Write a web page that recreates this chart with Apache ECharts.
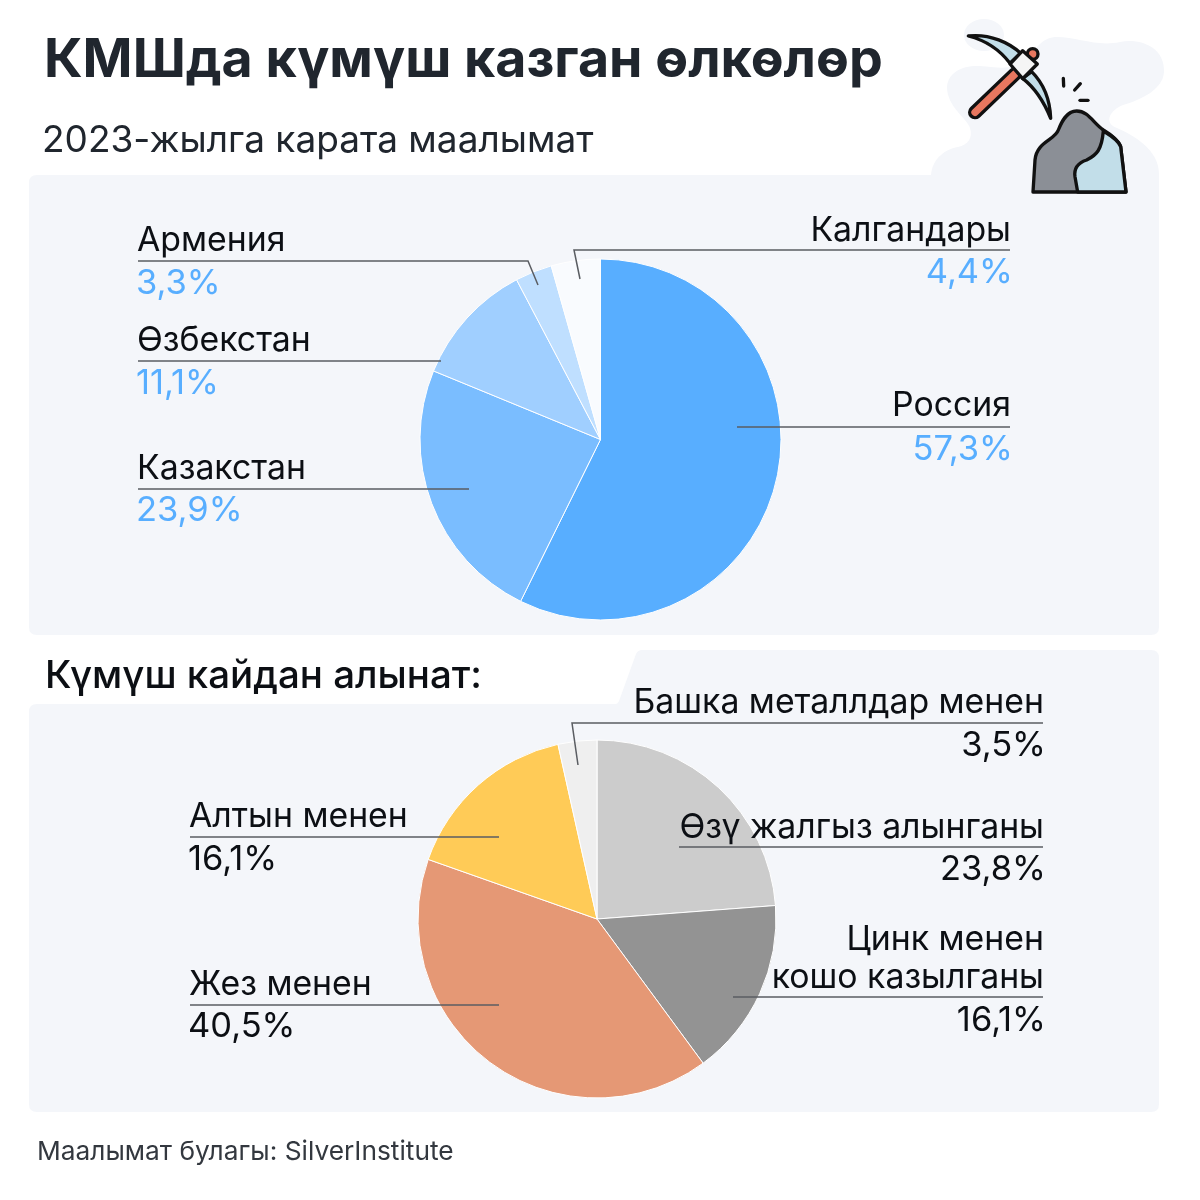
<!DOCTYPE html>
<html>
<head>
<meta charset="utf-8">
<style>
  html, body { margin: 0; padding: 0; background: #fff; }
  #main { width: 1200px; height: 1200px; }
</style>
</head>
<body>
<div id="main"></div>
<script src="https://cdn.jsdelivr.net/npm/echarts@6/dist/echarts.min.js"></script>
<script>
// data
var countryNames = ["Россия", "Казакстан", "Өзбекстан", "Армения", "Калгандары"];
var countryValues = [57.3, 23.9, 11.1, 3.3, 4.4];
var countryColors = ["#58aeff", "#7abdff", "#a0cfff", "#bfdfff", "#f9fbfe"];

var sourceNames = ["Өзү жалгыз алынганы", "Цинк менен\nкошо казылганы", "Жез менен", "Алтын менен", "Башка металлдар менен"];
var sourceValues = [23.8, 16.1, 40.5, 16.1, 3.5];
var sourceColors = ["#cccccc", "#939393", "#e59875", "#ffcb57", "#efefef"];

var FONT = "Inter, Roboto, sans-serif";
var DARK = "#0c0f14";

function pct(v) {
  return v.toFixed(1).replace(".", ",") + "%";
}

// the graphic component has no plain "path" type, so svg paths get registered as shapes
var shapeCount = 0;
function svgShape(pathData, style, z) {
  var name = "svgShape" + shapeCount++;
  echarts.graphic.registerShape(name, echarts.graphic.extendPath(pathData, {}));
  return { type: name, style: style, z: z };
}

function pieSeries(names, values, colors, center, radius) {
  return {
    type: "pie",
    center: center,
    radius: radius,
    startAngle: 90,
    clockwise: true,
    silent: true,
    animation: false,
    label: { show: false },
    labelLine: { show: false },
    itemStyle: { borderColor: "#fff", borderWidth: 1 },
    data: names.map(function (n, i) {
      return { name: n, value: values[i], itemStyle: { color: colors[i] } };
    }),
  };
}

// label block: name above a rule, value below it, rule runs on into the slice
function callout(name, value, o) {
  var els = [];
  var lines = name.split("\n");
  var right = o.align === "right";
  lines.forEach(function (t, i) {
    els.push({
      type: "text", z: 10,
      style: {
        text: t, x: o.x + (right ? 1 : -1), y: o.nameY + 1 + (i - lines.length + 1) * 38,
        align: o.align, verticalAlign: "middle",
        font: "400 33.8px " + FONT, fill: DARK,
      },
    });
  });
  els.push({
    type: "text", z: 10,
    style: {
      text: pct(value), x: o.x + (right ? 3 : -2), y: o.valueY + 1,
      align: o.align, verticalAlign: "middle",
      font: "400 34.5px " + FONT, fill: o.valueColor,
    },
  });
  els.push({
    type: "polyline", z: 9,
    shape: { points: o.line },
    style: { fill: "none", stroke: "#5a5d62", lineWidth: 1.5 },
  });
  return els;
}

var BLUE = "#58aeff";
var countryLayout = [
  { x: 1010, align: "right", nameY: 405, valueY: 449, valueColor: BLUE, line: [[1010, 427], [737, 427]] },
  { x: 138, align: "left", nameY: 468, valueY: 510, valueColor: BLUE, line: [[138, 489], [469, 489]] },
  { x: 138, align: "left", nameY: 340, valueY: 383, valueColor: BLUE, line: [[138, 361], [441, 361]] },
  { x: 138, align: "left", nameY: 240, valueY: 283, valueColor: BLUE, line: [[138, 261], [528, 261], [538, 285]] },
  { x: 1010, align: "right", nameY: 230, valueY: 272, valueColor: BLUE, line: [[1010, 250], [574, 250], [580, 279]] },
];
var sourceLayout = [
  { x: 1043, align: "right", nameY: 827, valueY: 869, valueColor: DARK, line: [[1043, 847], [679, 847]] },
  { x: 1043, align: "right", nameY: 977, valueY: 1020, valueColor: DARK, line: [[1043, 997], [733, 997]] },
  { x: 190, align: "left", nameY: 984, valueY: 1026, valueColor: DARK, line: [[190, 1005], [499, 1005]] },
  { x: 190, align: "left", nameY: 816, valueY: 859, valueColor: DARK, line: [[190, 837], [499, 837]] },
  { x: 1043, align: "right", nameY: 702, valueY: 745, valueColor: DARK, line: [[1043, 723], [572, 723], [578, 765]] },
];

var PANEL = "#f4f6fa";
function ink(fill) {
  return { fill: fill, stroke: "#111", lineWidth: 10, lineJoin: "round" };
}

var graphicEls = [
  // top panel with the blob behind the icon
  svgShape("M29 183 Q29 175 37 175 L931 175 C933 155 950 148 958 147 C968 145 973 138 970 128 C967 118 947 107 947 87 C948 72 963 65 980 66 C997 67 1013 72 1028 58 C1037 47 1043 37 1057 37 C1077 37 1097 47 1120 42 C1140 38 1165 47 1164 72 C1163 90 1140 100 1123 105 C1110 110 1103 123 1117 128 C1133 135 1160 150 1159 175 L1159 627 Q1159 635 1151 635 L37 635 Q29 635 29 627 Z", { fill: PANEL }, -1),
  { type: "ellipse", z: -1, shape: { cx: 984, cy: 35, rx: 20, ry: 16 }, style: { fill: PANEL } },
  // bottom panel with the cut corner
  svgShape("M29 712 Q29 704 37 704 L616 704 Q618 704 619 701 L636 654 Q638 650 642 650 L1151 650 Q1159 650 1159 658 L1159 1104 Q1159 1112 1151 1112 L37 1112 Q29 1112 29 1104 Z", { fill: PANEL }, -1),
  { type: "text", z: 10, style: { text: "КМШда күмүш казган өлкөлөр", x: 44, y: 61, verticalAlign: "middle", font: "700 53.7px " + FONT, fill: "#20262e" } },
  { type: "text", z: 10, style: { text: "2023-жылга карата маалымат", x: 42, y: 141, verticalAlign: "middle", font: "400 37px " + FONT, fill: "#20262e" } },
  { type: "text", z: 10, style: { text: "Күмүш кайдан алынат:", x: 45, y: 676, verticalAlign: "middle", font: "500 38.5px " + FONT, fill: DARK } },
  { type: "text", z: 10, style: { text: "Маалымат булагы: SilverInstitute", x: 37, y: 1152, verticalAlign: "middle", font: "400 26.3px " + FONT, fill: "#33383f" } },
  // pick and rock icon, drawn at 3x and scaled down
  {
    type: "group", x: 900, y: 0, scaleX: 1 / 3, scaleY: 1 / 3, z: 5,
    children: [
      { type: "circle", z: 5, shape: { cx: 398, cy: 162, r: 16 }, style: ink("#e8775f") },
      svgShape("M205 108 C270 100 330 130 362 160 L330 190 C300 150 260 122 205 108 Z", ink("#c2dee9"), 5),
      svgShape("M395 215 C430 250 450 300 452 355 C430 300 400 260 368 235 Z", ink("#c2dee9"), 5),
      { type: "line", z: 5, shape: { x1: 345, y1: 222, x2: 225, y2: 337 }, style: { stroke: "#111", lineWidth: 42, lineCap: "round" } },
      { type: "line", z: 5, shape: { x1: 345, y1: 222, x2: 225, y2: 337 }, style: { stroke: "#e8775f", lineWidth: 22, lineCap: "round" } },
      { type: "polygon", z: 5, shape: { points: [[368, 152], [412, 192], [368, 236], [330, 192]] }, style: ink("#f5f5f5") },
      { type: "line", z: 5, shape: { x1: 490, y1: 235, x2: 491, y2: 258 }, style: { stroke: "#111", lineWidth: 10, lineCap: "round" } },
      { type: "line", z: 5, shape: { x1: 524, y1: 270, x2: 541, y2: 251 }, style: { stroke: "#111", lineWidth: 10, lineCap: "round" } },
      { type: "line", z: 5, shape: { x1: 540, y1: 301, x2: 564, y2: 301 }, style: { stroke: "#111", lineWidth: 10, lineCap: "round" } },
      svgShape("M399 576 L678 576 L662 440 C655 420 630 402 610 390 C580 370 565 333 530 333 C500 333 485 365 475 390 C465 420 410 425 405 480 Z", ink("#8b8f96"), 5),
      svgShape("M610 393 C605 450 590 465 560 480 C530 490 522 510 525 530 L533 576 L678 576 L662 440 C655 420 630 405 610 393 Z", ink("#c2dee9"), 5),
    ],
  },
];

countryNames.forEach(function (n, i) {
  graphicEls = graphicEls.concat(callout(n, countryValues[i], countryLayout[i]));
});
sourceNames.forEach(function (n, i) {
  graphicEls = graphicEls.concat(callout(n, sourceValues[i], sourceLayout[i]));
});

var myChart = echarts.init(document.getElementById("main"), null, { renderer: "canvas" });
myChart.setOption({
  backgroundColor: "#fff",
  animation: false,
  tooltip: { show: false },
  graphic: { elements: graphicEls },
  series: [
    pieSeries(countryNames, countryValues, countryColors, [600.5, 439.5], 180.5),
    pieSeries(sourceNames, sourceValues, sourceColors, [597, 919], 179),
  ],
});
</script>
</body>
</html>
